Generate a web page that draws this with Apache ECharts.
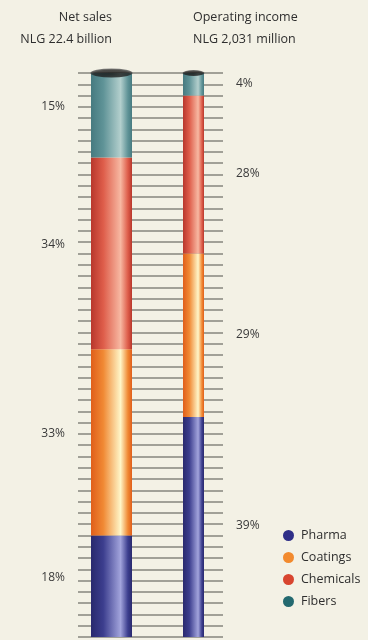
<!DOCTYPE html>
<html>
<head>
<meta charset="utf-8">
<script src="https://cdn.jsdelivr.net/npm/echarts@6/dist/echarts.min.js"></script>
<style>
  html, body { margin: 0; padding: 0; background: #f3f1e5; }
  #chart { width: 368px; height: 640px; }
</style>
</head>
<body>
<div id="chart"></div>
<script>
// Segment shares in percent, listed bottom-up (Pharma at the base, Fibers on top)
const segments = ['Pharma', 'Coatings', 'Chemicals', 'Fibers'];
const netSalesShare = [18, 33, 34, 15];
const operatingIncomeShare = [39, 29, 28, 4];
const salesTitle = ['Net sales', 'NLG 22.4 billion'];
const incomeTitle = ['Operating income', 'NLG 2,031 million'];

// Cylinder shading per segment: [edge, body, highlight]
const shades = {
  Pharma:    ['#29296e', '#3c3e8e', '#a2a4dc'],
  Coatings:  ['#e05e1a', '#f08934', '#fff6c8'],
  Chemicals: ['#b8372c', '#de5d4a', '#f7b8a2'],
  Fibers:    ['#467a80', '#5f9397', '#b3cfcd']
};
const dotColors = {
  Pharma: '#2f2f88', Coatings: '#f28a2e', Chemicals: '#d8452f', Fibers: '#23696f'
};

function cylinderFill(name) {
  const s = shades[name];
  return {
    type: 'linear', x: 0, y: 0, x2: 1, y2: 0,
    colorStops: [
      { offset: 0, color: s[0] },
      { offset: 0.3, color: s[1] },
      { offset: 0.72, color: s[2] },
      { offset: 0.9, color: s[1] },
      { offset: 1, color: s[0] }
    ]
  };
}

const chart = echarts.init(document.getElementById('chart'), null, { renderer: 'canvas' });

const TOP = 73, HEIGHT = 564;
const FONT = '"Open Sans", Lato, sans-serif';
const labelFont = { fontFamily: FONT, fontSize: 12, color: '#3a3a3a' };

function stackSeries(values, axisIdx, stackId, side) {
  return values.map((v, i) => ({
    type: 'bar',
    name: segments[i],
    stack: stackId,
    xAxisIndex: axisIdx,
    yAxisIndex: axisIdx,
    barWidth: '100%',
    z: 3,
    itemStyle: { color: cylinderFill(segments[i]) },
    label: Object.assign({
      show: true,
      position: side,
      distance: side === 'left' ? 26 : 32,
      offset: [0, side === 'left' ? -9 : -1],
      formatter: '{c}%'
    }, labelFont),
    data: [v]
  }));
}

function capSeries(axisIdx, total, size) {
  return {
    type: 'scatter',
    xAxisIndex: axisIdx,
    yAxisIndex: axisIdx,
    silent: true,
    z: 5,
    symbol: 'circle',
    symbolSize: size,
    itemStyle: {
      color: {
        type: 'radial', x: 0.5, y: 0.6, r: 0.6,
        colorStops: [
          { offset: 0, color: '#0e0e0e' },
          { offset: 0.7, color: '#222' },
          { offset: 1, color: '#6a6a6a' }
        ]
      }
    },
    data: [[0, total]]
  };
}

const sum = a => a.reduce((p, c) => p + c, 0);

const valueAxis = (gridIndex, showLines) => ({
  type: 'value', gridIndex, min: 0, max: 100, interval: 2,
  axisLine: { show: false }, axisTick: { show: false }, axisLabel: { show: false },
  splitLine: { show: showLines, lineStyle: { color: '#86847c', width: 1.7 } }
});
const catAxis = (gridIndex, name) => ({
  type: 'category', gridIndex, data: [name], show: false
});

const titleStyle = (text, align) => ({
  text, textAlign: align, font: '12.5px ' + FONT, fill: '#2e2e2e'
});

chart.setOption({
  backgroundColor: '#f3f1e5',
  animation: false,
  grid: [
    { left: 78, top: TOP, width: 145, height: HEIGHT },
    { left: 91, top: TOP, width: 41, height: HEIGHT },
    { left: 183, top: TOP, width: 21, height: HEIGHT }
  ],
  xAxis: [catAxis(0, ''), catAxis(1, salesTitle[0]), catAxis(2, incomeTitle[0])],
  yAxis: [valueAxis(0, true), valueAxis(1, false), valueAxis(2, false)],
  legend: {
    orient: 'vertical',
    left: 278,
    top: 524,
    icon: 'circle',
    itemWidth: 11,
    itemHeight: 11,
    itemGap: 9,
    selectedMode: false,
    textStyle: { fontFamily: FONT, fontSize: 12.5, color: '#2e2e2e', padding: [0, 0, 0, 2] },
    data: segments.map(n => ({ name: n, itemStyle: { color: dotColors[n] } }))
  },
  graphic: [
    { type: 'text', x: 112, y: 11, style: titleStyle(salesTitle[0], 'right') },
    { type: 'text', x: 112, y: 33, style: titleStyle(salesTitle[1], 'right') },
    { type: 'text', x: 193, y: 11, style: titleStyle(incomeTitle[0], 'left') },
    { type: 'text', x: 193, y: 33, style: titleStyle(incomeTitle[1], 'left') }
  ],
  series: [
    ...stackSeries(netSalesShare, 1, 'sales', 'left'),
    ...stackSeries(operatingIncomeShare, 2, 'income', 'right'),
    capSeries(1, sum(netSalesShare), [42, 9]),
    capSeries(2, sum(operatingIncomeShare), [22, 6])
  ]
});
</script>
</body>
</html>
